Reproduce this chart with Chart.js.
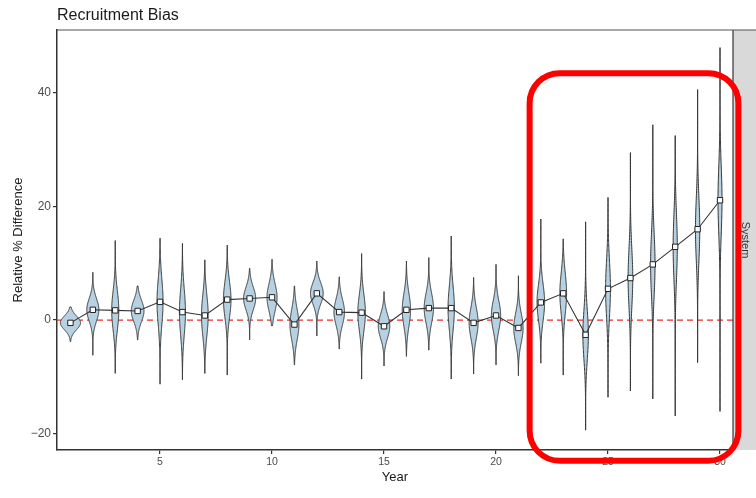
<!DOCTYPE html>
<html>
<head>
<meta charset="utf-8">
<script src="https://cdn.jsdelivr.net/npm/chart.js@4.4.1/dist/chart.umd.min.js"></script>
<style>
  html, body { margin: 0; padding: 0; background: #ffffff; }
  canvas { display: block; }
</style>
</head>
<body>
<canvas id="c" width="756" height="498"></canvas>
<script>
// Simulation years
const years = [1, 2, 3, 4, 5, 6, 7, 8, 9, 10, 11, 12, 13, 14, 15, 16, 17, 18, 19, 20, 21, 22, 23, 24, 25, 26, 27, 28, 29, 30];
// Median relative % difference per year
const medians = [-0.5, 1.8, 1.7, 1.6, 3.2, 1.4, 0.8, 3.6, 3.8, 4.0, -0.8, 4.7, 1.4, 1.3, -1.1, 1.8, 2.1, 2.1, -0.5, 0.8, -1.4, 3.1, 4.7, -2.6, 5.5, 7.4, 9.8, 12.9, 16.0, 21.1];
// Smallest and largest replicate per year
const lows  = [-3.8, -6.2, -9.4, -3.5, -11.3, -10.5, -9.4, -9.7, -3.5, -1.0, -7.9, -2.8, -5.1, -10.4, -8.1, -6.4, -5.3, -10.4, -9.5, -7.9, -9.8, -7.6, -9.7, -19.4, -13.6, -12.5, -13.9, -16.9, -7.5, -16.1];
const highs = [2.3, 8.4, 14.0, 6.0, 14.4, 13.5, 10.6, 13.2, 9.1, 10.7, 6.0, 10.4, 7.6, 11.7, 5.0, 10.4, 11.0, 14.8, 7.5, 9.8, 7.8, 17.8, 14.3, 17.3, 21.6, 29.5, 34.4, 32.5, 40.6, 48.0];
// Spread of the replicates around the median (density bandwidth)
const spreads = [1.2, 2.0, 3.4, 1.9, 4.0, 4.0, 3.6, 3.2, 2.0, 2.4, 2.7, 1.9, 2.3, 3.2, 2.1, 2.9, 2.6, 3.8, 2.7, 2.6, 2.6, 3.2, 3.6, 4.4, 5.0, 5.2, 5.4, 5.8, 5.6, 6.0];
// Tick labels
const xTicks = [5, 10, 15, 20, 25, 30];
const yTicks = [-20, 0, 20, 40];
// Highlighted block of years and value range
const highlightYears = [21.5, 30.82];
const highlightValues = [-24.8, 43.5];

const FONT = '"Liberation Sans", Arial, Helvetica, sans-serif';
const AREA_K = 0.54; // violin area scaling: peak half-width = AREA_K / spread

const violinPlugin = {
  id: 'violins',
  beforeDatasetsDraw(chart) {
    const { ctx, chartArea: a, scales: { x, y } } = chart;
    ctx.save();
    ctx.beginPath();
    ctx.rect(a.left, a.top, a.right - a.left, a.bottom - a.top);
    ctx.clip();

    // zero reference line
    const y0 = y.getPixelForValue(0);
    ctx.strokeStyle = '#ee2c2c';
    ctx.lineWidth = 1.2;
    ctx.setLineDash([6, 4]);
    ctx.beginPath();
    ctx.moveTo(a.left, y0);
    ctx.lineTo(a.right, y0);
    ctx.stroke();
    ctx.setLineDash([]);

    // violins
    years.forEach((yr, i) => {
      const m = medians[i], s = spreads[i], lo = lows[i], hi = highs[i];
      const half = AREA_K / s;
      const n = 160;
      const rightSide = [], leftSide = [];
      for (let j = 0; j <= n; j++) {
        const v = lo + (hi - lo) * j / n;
        const z = (v - m) / s;
        const w = half * Math.exp(-0.5 * z * z);
        const py = y.getPixelForValue(v);
        rightSide.push([x.getPixelForValue(yr + w), py]);
        leftSide.push([x.getPixelForValue(yr - w), py]);
      }
      ctx.beginPath();
      rightSide.forEach((p, k) => (k ? ctx.lineTo(p[0], p[1]) : ctx.moveTo(p[0], p[1])));
      for (let k = leftSide.length - 1; k >= 0; k--) ctx.lineTo(leftSide[k][0], leftSide[k][1]);
      ctx.closePath();
      ctx.fillStyle = '#b6d1e2';
      ctx.fill();
      ctx.strokeStyle = '#333333';
      ctx.lineWidth = 1;
      ctx.stroke();
    });
    ctx.restore();
  },
  afterDraw(chart) {
    const { ctx, chartArea: a, scales: { x, y } } = chart;
    const W = chart.width;
    ctx.save();

    // facet strip
    ctx.fillStyle = '#d9d9d9';
    ctx.fillRect(a.right, a.top, W - a.right + 2, a.bottom - a.top);
    ctx.strokeStyle = '#333333';
    ctx.lineWidth = 1.2;
    ctx.beginPath();
    ctx.moveTo(a.right, a.top);
    ctx.lineTo(a.right, a.bottom);
    ctx.stroke();

    // panel top border
    ctx.strokeStyle = '#555555';
    ctx.lineWidth = 1.2;
    ctx.beginPath();
    ctx.moveTo(a.left, a.top);
    ctx.lineTo(W, a.top);
    ctx.stroke();

    // strip label
    ctx.save();
    ctx.translate(a.right + 12, (a.top + a.bottom) / 2);
    ctx.rotate(Math.PI / 2);
    ctx.fillStyle = '#333333';
    ctx.font = '11px ' + FONT;
    ctx.textAlign = 'center';
    ctx.textBaseline = 'middle';
    ctx.fillText('System', 0, 0);
    ctx.restore();

    // highlight box
    const bx0 = x.getPixelForValue(highlightYears[0]);
    const bx1 = x.getPixelForValue(highlightYears[1]);
    const by0 = y.getPixelForValue(highlightValues[1]);
    const by1 = y.getPixelForValue(highlightValues[0]);
    ctx.strokeStyle = '#ff0000';
    ctx.lineWidth = 6;
    ctx.beginPath();
    ctx.roundRect(bx0, by0, bx1 - bx0, by1 - by0, 30);
    ctx.stroke();

    // titles
    ctx.fillStyle = '#1a1a1a';
    ctx.font = '16px ' + FONT;
    ctx.textAlign = 'left';
    ctx.textBaseline = 'alphabetic';
    ctx.fillText('Recruitment Bias', a.left, 20);

    ctx.font = '13px ' + FONT;
    ctx.textAlign = 'center';
    ctx.textBaseline = 'middle';
    ctx.fillText('Year', (a.left + a.right) / 2, 477);

    ctx.save();
    ctx.translate(18, (a.top + a.bottom) / 2);
    ctx.rotate(-Math.PI / 2);
    ctx.fillText('Relative % Difference', 0, 0);
    ctx.restore();

    ctx.restore();
  }
};

new Chart(document.getElementById('c'), {
  type: 'line',
  data: {
    datasets: [{
      data: years.map((yr, i) => ({ x: yr, y: medians[i] })),
      borderColor: '#333333',
      borderWidth: 1.1,
      pointStyle: 'rect',
      pointRadius: 3.8,
      pointBackgroundColor: '#ffffff',
      pointBorderColor: '#222222',
      pointBorderWidth: 1,
      tension: 0
    }]
  },
  options: {
    responsive: false,
    animation: false,
    devicePixelRatio: 1,
    layout: { padding: { top: 30, right: 23, left: 0, bottom: 0 } },
    plugins: { legend: { display: false }, tooltip: { enabled: false } },
    scales: {
      x: {
        type: 'linear',
        min: 0.4,
        max: 30.58,
        afterBuildTicks: s => { s.ticks = xTicks.map(v => ({ value: v })); },
        afterFit: s => { s.height = 48; },
        grid: { drawOnChartArea: false, tickLength: 4, color: '#333333', lineWidth: 1.2 },
        border: { color: '#333333', width: 1.5 },
        ticks: { color: '#4d4d4d', font: { size: 10.5, family: FONT }, padding: 2, maxRotation: 0, autoSkip: false }
      },
      y: {
        type: 'linear',
        min: -22.9,
        max: 51.1,
        afterBuildTicks: s => { s.ticks = yTicks.map(v => ({ value: v })); },
        afterFit: s => { s.width = 57; },
        grid: { drawOnChartArea: false, tickLength: 4, color: '#333333', lineWidth: 1.2 },
        border: { color: '#333333', width: 1.5 },
        ticks: {
          color: '#4d4d4d',
          font: { size: 12, family: FONT },
          padding: 2,
          autoSkip: false,
          callback: v => (v < 0 ? '\u2212' + Math.abs(v) : String(v))
        }
      }
    }
  },
  plugins: [violinPlugin]
});
</script>
</body>
</html>
